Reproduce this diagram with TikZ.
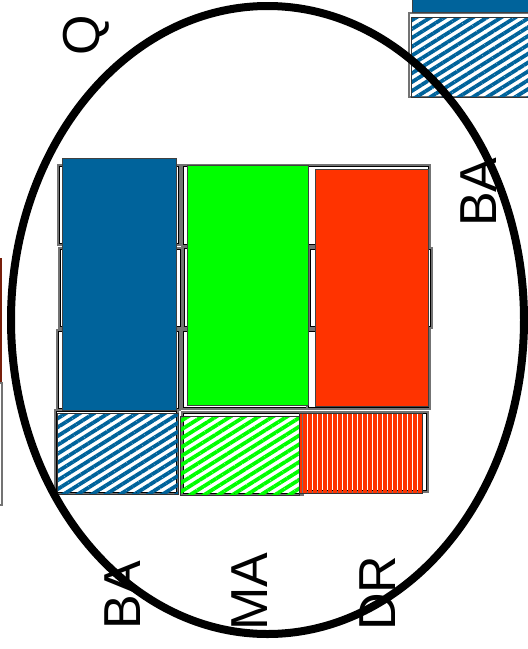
\documentclass[tikz,border=0pt]{standalone}
\usepackage{fontspec}
\setmainfont{Liberation Sans}
\usetikzlibrary{patterns.meta}
\definecolor{cblue}{RGB}{0,99,155}
\definecolor{cgreen}{RGB}{0,255,0}
\definecolor{cred}{RGB}{255,51,0}
\definecolor{cdark}{RGB}{120,30,10}
\begin{document}
\begin{tikzpicture}[x=1pt,y=-1pt,
  bgbox/.style={fill=white,draw=black!55,line width=1.4pt},
  bgline/.style={draw=black,line width=0.5pt},
  bar/.style={draw=black!75,line width=0.9pt},
  hblue/.style={pattern={Lines[angle=32,distance=7.5pt,line width=3.8pt]},pattern color=cblue,draw=black!80,line width=0.8pt},
  hgreen/.style={pattern={Lines[angle=32,distance=7.5pt,line width=3.8pt]},pattern color=cgreen,draw=black!80,line width=0.8pt},
  hred/.style={pattern={Lines[angle=90,distance=5pt,line width=3.5pt]},pattern color=cred,draw=black!80,line width=0.8pt},
  lbl/.style={font=\fontsize{52}{60}\selectfont,rotate=90,anchor=base west,inner sep=0pt}]
\useasboundingbox (0,0) rectangle (528,649);
\begin{scope}
\clip (0,0) rectangle (528,649);
% left partial chart
\draw[cdark,line width=2pt] (1,258) -- (1,382);
\draw[bgbox] (-20,383) rectangle (2,505);
% top right partial chart
\draw[bgbox] (409,13) rectangle (540,97);
\fill[cblue] (412,-10) rectangle (540,12);
\draw[bar] (412,-10) rectangle (540,12);
\draw[hblue] (411,17) rectangle (540,97);
% background boxes
\foreach \a/\b/\c/\d in {58/165/180/245, 59/248/182/328, 57/330/180/410,
  182/165/310/246, 183/247/311/328, 182/330/310/409,
  307/165/430/246, 309/248/432/328, 307/330/430/409,
  55/410/178/494, 182/412/303/495, 305/412/428/492}{
  \draw[bgbox] (\a,\b) rectangle (\c,\d);
  \draw[bgline] (\a+1.5,\b+1.5) rectangle (\c-1.5,\d-1.5);
}
% bars
\node[bar,fill=cblue,inner sep=0pt,minimum width=114pt,minimum height=252pt] (bblue) at (119,284) {};
\node[bar,fill=cgreen,inner sep=0pt,minimum width=121pt,minimum height=240pt] (bgreen) at (247.5,285.5) {};
\node[bar,fill=cred,inner sep=0pt,minimum width=113pt,minimum height=237pt] (bred) at (371.5,287.5) {};
% hatched boxes
\node[hblue,inner sep=0pt,minimum width=121pt,minimum height=81pt] (hb) at (117.5,453.5) {};
\node[hgreen,inner sep=0pt,minimum width=119pt,minimum height=79pt] (hg) at (239.5,455.5) {};
\node[hred,inner sep=0pt,minimum width=123pt,minimum height=80pt] (hr) at (360.5,453) {};
% labels
\node[lbl] (q) at (99,56) {Q};
\node[lbl] (ba2) at (496,227) {BA};
\node[lbl] (ba) at (140,630) {BA};
\node[lbl] (ma) at (267,631) {MA};
\node[lbl] (dr) at (395,631) {DR};
% ellipse
\draw[line width=8pt] (267.5,320) ellipse [x radius=256.5, y radius=314];
\end{scope}
\end{tikzpicture}
\end{document}
